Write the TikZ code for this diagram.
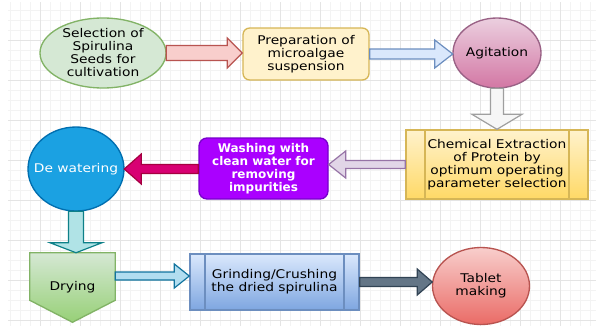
\documentclass[tikz,border=0pt]{standalone}
\usepackage{fontspec}
\setmainfont{DejaVu Sans}[FakeStretch=1.15, BoldFeatures={FakeStretch=1.0}]
\usetikzlibrary{calc,backgrounds}

\definecolor{selfill}{HTML}{D5E8D4}
\definecolor{seldraw}{HTML}{82B366}
\definecolor{prepfill}{HTML}{FFF2CC}
\definecolor{prepdraw}{HTML}{D6B656}
\definecolor{agittop}{HTML}{EBCFDF}
\definecolor{agitbot}{HTML}{D377A4}
\definecolor{agitdraw}{HTML}{996185}
\definecolor{chembot}{HTML}{FFD966}
\definecolor{washfill}{HTML}{AA00FF}
\definecolor{washdraw}{HTML}{7700CC}
\definecolor{dewfill}{HTML}{1BA1E2}
\definecolor{dewdraw}{HTML}{006EAF}
\definecolor{drybot}{HTML}{97D077}
\definecolor{grindtop}{HTML}{DAE8FC}
\definecolor{grindbot}{HTML}{7EA6E0}
\definecolor{grinddraw}{HTML}{6C8EBF}
\definecolor{tabtop}{HTML}{F8CECC}
\definecolor{tabbot}{HTML}{EA6B66}
\definecolor{tabdraw}{HTML}{B85450}
\definecolor{purplefill}{HTML}{E1D5E7}
\definecolor{purpledraw}{HTML}{9673A6}
\definecolor{crimfill}{HTML}{D80073}
\definecolor{crimdraw}{HTML}{A50040}
\definecolor{tealfill}{HTML}{B0E3E6}
\definecolor{tealdraw}{HTML}{0E8088}
\definecolor{skyfill}{HTML}{B1DDF0}
\definecolor{skydraw}{HTML}{10739E}
\definecolor{slatefill}{HTML}{647687}
\definecolor{slatedraw}{HTML}{314354}
\definecolor{gridminor}{HTML}{F3F3F3}
\definecolor{gridmajor}{HTML}{E4E4E4}

\def\u{0.75pt}
\tikzset{
  base/.style={align=center, inner sep=0pt, font=\fontsize{9}{9.75}\selectfont},
  box/.style 2 args={base, draw, line width=1pt, rectangle,
    minimum width=#1*\u, minimum height=#2*\u},
  ovalbox/.style 2 args={base, rectangle, minimum width=#1*\u, minimum height=#2*\u},
  procbox/.style n args={3}{box={#1}{#2},
    path picture={
      \draw[line width=1pt] ([xshift=#3*\u]path picture bounding box.north west)
        -- ([xshift=#3*\u]path picture bounding box.south west);
      \draw[line width=1pt] ([xshift=-#3*\u]path picture bounding box.north east)
        -- ([xshift=-#3*\u]path picture bounding box.south east);}},
  outline/.style={line width=1pt},
  fat/.style 2 args={fill=#1, draw=#2, line width=0.9pt, line join=miter}
}

% fat arrow: style, from, to, shaft half, head half, head length (px)
\newcommand{\fatarrow}[6]{%
  \path ($(#3)!#6*\u!(#2)$) coordinate (ah);
  \path[#1]
    ($(#2)!#4*\u!-90:(#3)$) -- ($(ah)!#4*\u!-90:(#3)$) -- ($(ah)!#5*\u!-90:(#3)$)
    -- (#3) -- ($(ah)!#5*\u!90:(#3)$) -- ($(ah)!#4*\u!90:(#3)$)
    -- ($(#2)!#4*\u!90:(#3)$) -- cycle;}

\begin{document}
\begin{tikzpicture}[x=\u, y=\u]
\useasboundingbox (0,0) rectangle (596,-326);
\begin{scope}[on background layer]
  \fill[white] (0,0) rectangle (596,-326);
  \draw[gridminor, line width=0.4pt, step=10*\u] (8,-2) grid (596,-326);
  \draw[gridmajor, line width=0.5pt, step=40*\u] (8,-2) grid (596,-326);
\end{scope}

% top row
\node[ovalbox={126}{70}] (sel) at (103,-53)
  {Selection of\\Spirulina\\Seeds for\\cultivation};
\node[box={126}{52}, rounded corners=5pt, fill=prepfill, draw=prepdraw] (prep) at (306,-54)
  {Preparation of\\microalgae\\suspension};
\node[ovalbox={88}{70}] (agit) at (497,-53) {Agitation};

% middle row
\node[procbox={182}{69}{19}, top color=prepfill, bottom color=chembot, draw=prepdraw] (chem) at (497,-164.5)
  {Chemical Extraction\\of Protein by\\optimum operating\\parameter selection};
\node[box={129}{61}, rounded corners=6pt, fill=washfill, draw=washdraw, text=white,
  font=\fontsize{9}{9.75}\selectfont\bfseries] (wash) at (263.5,-168.5)
  {Washing with\\clean water for\\removing\\impurities};
\node[ovalbox={96}{84}, text=white] (dew) at (76,-169) {De watering};

% bottom row
\node[ovalbox={85}{69}] (dry) at (72.5,-287.5) {Drying};
\node[procbox={169}{56}{15}, top color=grindtop, bottom color=grindbot, draw=grinddraw] (grind) at (274.5,-282)
  {Grinding/Crushing\\the dried spirulina};
\node[ovalbox={97}{77}] (tab) at (481,-286) {Tablet\\making};

% shapes behind the texts
\begin{scope}[on background layer]
  \filldraw[outline, fill=selfill, draw=seldraw] (sel.center) ellipse [x radius=63, y radius=35];
  \shadedraw[outline, top color=agittop, bottom color=agitbot, draw=agitdraw]
    (agit.center) ellipse [x radius=44, y radius=35];
  \filldraw[outline, fill=dewfill, draw=dewdraw] (dew.center) ellipse [x radius=48, y radius=42];
  \shadedraw[outline, top color=selfill, bottom color=drybot, draw=seldraw]
    (dry.north west) -- (dry.north east) -- ([yshift=22*\u]dry.south east)
    -- (dry.south) -- ([yshift=22*\u]dry.south west) -- cycle;
  \shadedraw[outline, top color=tabtop, bottom color=tabbot, draw=tabdraw]
    (tab.center) ellipse [x radius=48.5, y radius=38.5];
\end{scope}

% connectors
\fatarrow{fat={tabtop}{tabdraw}}{sel.east}{prep.west |- sel.east}{7.5}{15}{15}
\fatarrow{fat={grindtop}{grinddraw}}{prep.east}{agit.west |- prep.east}{5}{14}{18}
\fatarrow{fat={gray!7}{gray!75}}{agit.south}{chem.north}{6.5}{25}{15}
\fatarrow{fat={purplefill}{purpledraw}}{chem.west}{wash.east |- chem.west}{4}{13.5}{17}
\fatarrow{fat={crimfill}{crimdraw}}{wash.west |- dew.east}{dew.east}{4.5}{15}{17}
\fatarrow{fat={tealfill}{tealdraw}}{dew.south}{dew.south |- dry.north}{7.5}{26}{10}
\fatarrow{fat={skyfill}{skydraw}}{[yshift=11.5*\u]dry.east}{[yshift=6*\u]grind.west}{4}{12}{15}
\fatarrow{fat={slatefill}{slatedraw}}{grind.east}{tab.west |- grind.east}{4.5}{13}{15}
\end{tikzpicture}
\end{document}
